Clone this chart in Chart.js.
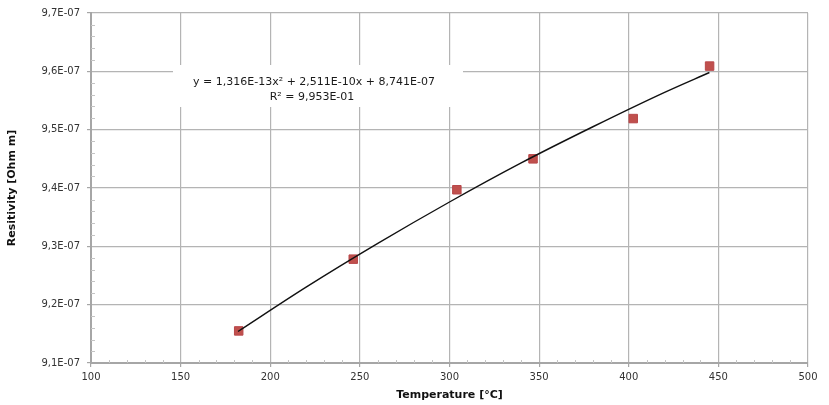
<!DOCTYPE html>
<html lang="en">
<head>
  <meta charset="utf-8">
  <title>Resistivity vs Temperature</title>
  <script src="https://cdn.jsdelivr.net/npm/chart.js"></script>
  <style>
    html, body { margin: 0; padding: 0; background: #fff; }
    #wrap { width: 829px; height: 405px; }
  </style>
</head>
<body>
  <div id="wrap"><canvas id="chart"></canvas></div>

  <script>
    // measured points (temperature in °C, resistivity in units of 1E-07 Ohm m)
    const temperature = [182.4, 246.3, 304.1, 346.6, 402.5, 445.1];
    const resistivity = [9.155, 9.278, 9.397, 9.450, 9.519, 9.609];

    // points
    const trendX = [182, 220, 260, 300, 340, 380, 420, 445];
    const trendY = [9.154, 9.230, 9.305, 9.376, 9.443, 9.505, 9.564, 9.598];

    // axis ticks
    const xMajorTicks = [100, 150, 200, 250, 300, 350, 400, 450, 500];
    const yMajorTicks = [9.1, 9.2, 9.3, 9.4, 9.5, 9.6, 9.7];

    const equationLines = ['y = 1,316E-13x\u00B2 + 2,511E-10x + 8,741E-07', 'R\u00B2 = 9,953E-01'];

    const FONT = "'DejaVu Sans', Verdana, sans-serif";
    const GRID = '#b4b4b4';
    const AXIS = '#a6a6a6';

    function isMajor(list, v) {
      return list.some(m => Math.abs(m - v) < 1e-6);
    }

    // white box with the trendline equation
    const equationBox = {
      id: 'equationBox',
      beforeDatasetsDraw(chart) {
        const ctx = chart.ctx;
        ctx.save();
        ctx.fillStyle = '#fff';
        ctx.fillRect(173, 65, 290, 42);
        ctx.fillStyle = '#1a1a1a';
        ctx.font = '11px ' + FONT;
        ctx.textAlign = 'center';
        ctx.textBaseline = 'middle';
        ctx.fillText(equationLines[0], 314, 82);
        ctx.fillText(equationLines[1], 312, 97);
        ctx.restore();
      }
    };

    // small minor tick marks on the inside of the axes
    const minorTicks = {
      id: 'minorTicks',
      afterDraw(chart) {
        const ctx = chart.ctx;
        const xs = chart.scales.x, ys = chart.scales.y;
        const area = chart.chartArea;
        ctx.save();
        ctx.strokeStyle = '#c4c4c4';
        ctx.lineWidth = 1;
        ctx.beginPath();
        xs.ticks.forEach(t => {
          if (isMajor(xMajorTicks, t.value)) return;
          const px = Math.round(xs.getPixelForValue(t.value)) + 0.5;
          ctx.moveTo(px, area.bottom);
          ctx.lineTo(px, area.bottom - 3);
        });
        ys.ticks.forEach(t => {
          if (isMajor(yMajorTicks, t.value)) return;
          const py = Math.round(ys.getPixelForValue(t.value)) + 0.5;
          ctx.moveTo(area.left, py);
          ctx.lineTo(area.left + 4, py);
        });
        ctx.stroke();
        ctx.restore();
      }
    };

    const ctx = document.getElementById('chart').getContext('2d');
    new Chart(ctx, {
      type: 'scatter',
      data: {
        datasets: [
          {
            label: 'Trend',
            type: 'line',
            data: trendX.map((x, i) => ({ x: x, y: trendY[i] })),
            borderColor: '#111',
            borderWidth: 1.4,
            pointRadius: 0,
            cubicInterpolationMode: 'monotone',
            fill: false,
            order: 0
          },
          {
            label: 'Resistivity',
            data: temperature.map((x, i) => ({ x: x, y: resistivity[i] })),
            pointStyle: 'rect',
            pointRadius: 6,
            pointBackgroundColor: '#c0504d',
            pointBorderColor: '#b8474a',
            pointBorderWidth: 1,
            order: 1
          }
        ]
      },
      plugins: [equationBox, minorTicks],
      options: {
        responsive: true,
        maintainAspectRatio: false,
        animation: false,
        layout: { padding: { left: 0, right: 21, top: 11, bottom: 0 } },
        plugins: {
          legend: { display: false },
          tooltip: { enabled: false }
        },
        scales: {
          x: {
            type: 'linear',
            min: 100,
            max: 500,
            afterFit: s => { s.height = 42; },
            ticks: {
              stepSize: 10,
              autoSkip: false,
              maxRotation: 0,
              padding: 4,
              color: '#333',
              font: { family: FONT, size: 10 },
              callback: v => isMajor(xMajorTicks, v) ? String(v) : ''
            },
            grid: {
              color: c => isMajor(xMajorTicks, c.tick.value) ? GRID : 'rgba(0,0,0,0)',
              tickColor: c => isMajor(xMajorTicks, c.tick.value) ? AXIS : 'rgba(0,0,0,0)',
              tickLength: 4,
              lineWidth: 1.2
            },
            border: { color: AXIS, width: 2 },
            title: {
              display: true,
              text: 'Temperature [\u00B0C]',
              color: '#111',
              font: { family: FONT, size: 11, weight: 'bold' },
              padding: { top: 0, bottom: 3 }
            }
          },
          y: {
            type: 'linear',
            min: 9.1,
            max: 9.7,
            afterFit: s => { s.width = 91; },
            ticks: {
              stepSize: 0.02,
              autoSkip: false,
              padding: 7,
              color: '#333',
              font: { family: FONT, size: 10 },
              callback: v => isMajor(yMajorTicks, v) ? v.toFixed(1).replace('.', ',') + 'E-07' : ''
            },
            grid: {
              color: c => isMajor(yMajorTicks, c.tick.value) ? GRID : 'rgba(0,0,0,0)',
              tickColor: c => isMajor(yMajorTicks, c.tick.value) ? AXIS : 'rgba(0,0,0,0)',
              tickLength: 4,
              lineWidth: 1.2
            },
            border: { color: AXIS, width: 2 },
            title: {
              display: true,
              text: 'Resitivity [Ohm m]',
              color: '#111',
              font: { family: FONT, size: 11, weight: 'bold' },
              padding: { top: 6, bottom: 0 }
            }
          }
        }
      }
    });
  </script>
</body>
</html>
